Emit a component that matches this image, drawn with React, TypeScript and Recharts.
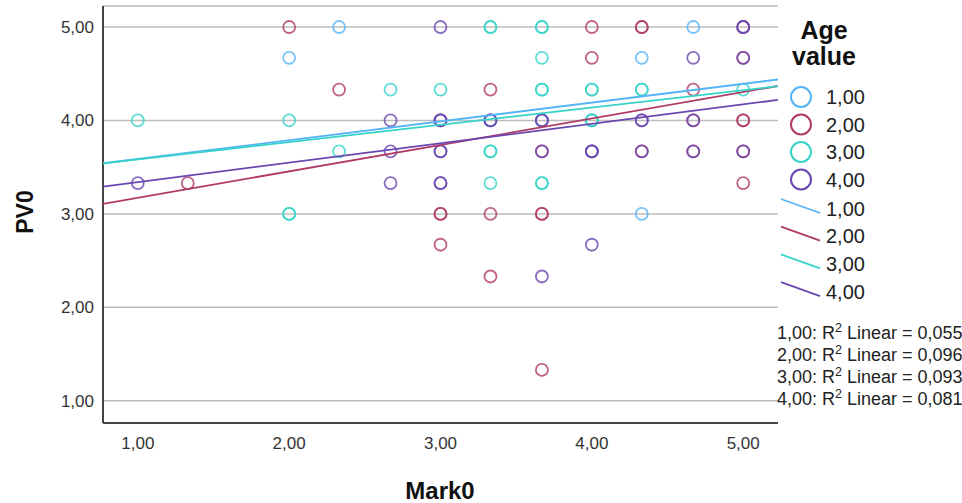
import React from 'react';
import { ScatterChart, Scatter, XAxis, YAxis, CartesianGrid, Customized } from 'recharts';

// Axis ticks and ranges
const MARK_TICKS = [1, 2, 3, 4, 5];
const PV_TICKS = [1, 2, 3, 4, 5];
const MARK_DOMAIN: [number, number] = [0.77, 5.23];
const PV_DOMAIN: [number, number] = [0.762, 5.225];

// Age groups
const AGE_LABELS = ['1,00', '2,00', '3,00', '4,00'];
const AGE_COLORS = ['#55b4f6', '#b03a66', '#36d3c8', '#6a47b0'];

// Linear fit per age group (intercept, slope) and R²
const FIT_INTERCEPTS = [3.387, 2.889, 3.399, 3.132];
const FIT_SLOPES = [0.201, 0.283, 0.185, 0.208];
const R2_VALUES = ['0,055', '0,096', '0,093', '0,081'];

// Observations [Mark0, PV0] per age group
const age1Points: [number, number][] = [
  [2.33, 5], [4.67, 5], [2, 4.67], [4.33, 4.67], [3.33, 4], [3.67, 4], [4, 4], [4.33, 3],
];
const age2Points: [number, number][] = [
  [2, 5], [4, 5], [4.33, 5], [4.33, 5], [5, 5], [4, 4.67], [5, 4.67], [2.33, 4.33], [3.33, 4.33],
  [4.67, 4.33], [4.67, 4], [5, 4], [5, 4], [3.67, 3.67], [4.33, 3.67], [4.67, 3.67], [5, 3.67],
  [1.33, 3.33], [5, 3.33], [3, 3], [3, 3], [3.33, 3], [3.67, 3], [3.67, 3], [3, 2.67],
  [3.33, 2.33], [3.67, 1.33],
];
const age3Points: [number, number][] = [
  [3.33, 5], [3.33, 5], [3.67, 5], [3.67, 5], [3.67, 4.67], [2.67, 4.33], [3, 4.33], [3.67, 4.33],
  [3.67, 4.33], [4, 4.33], [4, 4.33], [4.33, 4.33], [4.33, 4.33], [5, 4.33], [1, 4], [2, 4],
  [4, 4], [4, 4], [2.33, 3.67], [3.33, 3.67], [3.33, 3.67], [3.33, 3.33], [3.67, 3.33],
  [3.67, 3.33], [2, 3], [2, 3],
];
const age4Points: [number, number][] = [
  [3, 5], [5, 5], [5, 5], [4.67, 4.67], [5, 4.67], [2.67, 4], [3, 4], [3, 4], [3, 4], [3.33, 4],
  [3.33, 4], [3.67, 4], [3.67, 4], [4.33, 4], [4.33, 4], [4.67, 4], [2.67, 3.67], [3, 3.67],
  [3, 3.67], [3.67, 3.67], [4, 3.67], [4, 3.67], [4, 3.67], [4.33, 3.67], [4.67, 3.67],
  [5, 3.67], [1, 3.33], [2.67, 3.33], [3, 3.33], [3, 3.33], [4, 2.67], [3.67, 2.33],
];

const GROUP_POINTS = [age1Points, age2Points, age3Points, age4Points];

const FONT = '"Liberation Sans", Arial, sans-serif';
const fmt = (v: number) => v.toFixed(2).replace('.', ',');

const toRows = (pts: [number, number][]) => pts.map(([x, y]) => ({ x, y }));
const fitRows = (i: number) =>
  MARK_DOMAIN.map((x) => ({ x, y: FIT_INTERCEPTS[i] + FIT_SLOPES[i] * x }));

const ring = (color: string) => (props: any) => (
  <circle
    cx={props.cx}
    cy={props.cy}
    r={6}
    fill="none"
    stroke={color}
    strokeWidth={1.8}
    strokeOpacity={0.8}
  />
);

const noMarker = () => <g />;

const Decorations = () => (
  <g fontFamily={FONT}>
    {/* axis titles */}
    <text x={440} y={499} textAnchor="middle" fontSize={24} fontWeight="bold" fill="#111">
      Mark0
    </text>
    <text
      x={33}
      y={212}
      textAnchor="middle"
      fontSize={23}
      fontWeight="bold"
      fill="#111"
      transform="rotate(-90 33 212)"
    >
      PV0
    </text>

    {/* legend */}
    <text x={824} y={39} textAnchor="middle" fontSize={25} fontWeight="bold" fill="#111">
      Age
    </text>
    <text x={824} y={65} textAnchor="middle" fontSize={25} fontWeight="bold" fill="#111">
      value
    </text>
    {AGE_LABELS.map((label, i) => (
      <g key={'m' + label}>
        <circle cx={801} cy={97 + i * 27.5} r={10} fill="none" stroke={AGE_COLORS[i]} strokeWidth={2} />
        <text x={826} y={104 + i * 27.5} fontSize={20} fill="#222">
          {label}
        </text>
      </g>
    ))}
    {AGE_LABELS.map((label, i) => (
      <g key={'l' + label}>
        <line
          x1={781}
          y1={199 + i * 27.7}
          x2={820}
          y2={213 + i * 27.7}
          stroke={AGE_COLORS[i]}
          strokeWidth={1.8}
        />
        <text x={826} y={215.5 + i * 27.7} fontSize={20} fill="#222">
          {label}
        </text>
      </g>
    ))}
    {AGE_LABELS.map((label, i) => (
      <text key={'r' + label} x={777} y={338.5 + i * 22.3} fontSize={18} fill="#222">
        {label}: R
        <tspan fontSize={12.5} dy={-7}>
          2
        </tspan>
        <tspan dy={7}> Linear = {R2_VALUES[i]}</tspan>
      </text>
    ))}
  </g>
);

export default function App() {
  return (
    <div style={{ position: 'absolute', left: 0, top: 0, width: 962, height: 503, background: '#fff' }}>
      <ScatterChart
        width={962}
        height={503}
        margin={{ top: 6, right: 184, bottom: 0, left: 0 }}
        style={{ fontFamily: FONT }}
      >
        <CartesianGrid horizontal vertical={false} stroke="#bdbdbd" strokeWidth={1.5} />
        <XAxis
          type="number"
          dataKey="x"
          domain={MARK_DOMAIN}
          ticks={MARK_TICKS}
          allowDataOverflow
          tickFormatter={fmt}
          height={80}
          tickLine={false}
          tickSize={0}
          tickMargin={14}
          axisLine={{ stroke: '#444', strokeWidth: 2 }}
          tick={{ fill: '#333', fontSize: 17, fontFamily: FONT }}
        />
        <YAxis
          type="number"
          dataKey="y"
          domain={PV_DOMAIN}
          ticks={PV_TICKS}
          allowDataOverflow
          tickFormatter={fmt}
          width={103}
          tickLine={false}
          tickSize={0}
          tickMargin={9}
          axisLine={{ stroke: '#444', strokeWidth: 2 }}
          tick={{ fill: '#333', fontSize: 17, fontFamily: FONT }}
        />
        {GROUP_POINTS.map((pts, i) => (
          <Scatter
            key={'pts' + i}
            data={toRows(pts)}
            shape={ring(AGE_COLORS[i])}
            isAnimationActive={false}
          />
        ))}
        {AGE_LABELS.map((_, i) => (
          <Scatter
            key={'fit' + i}
            data={fitRows(i)}
            shape={noMarker}
            line={{ stroke: AGE_COLORS[i], strokeWidth: 1.8 }}
            isAnimationActive={false}
          />
        ))}
        <Customized component={Decorations} />
      </ScatterChart>
    </div>
  );
}
